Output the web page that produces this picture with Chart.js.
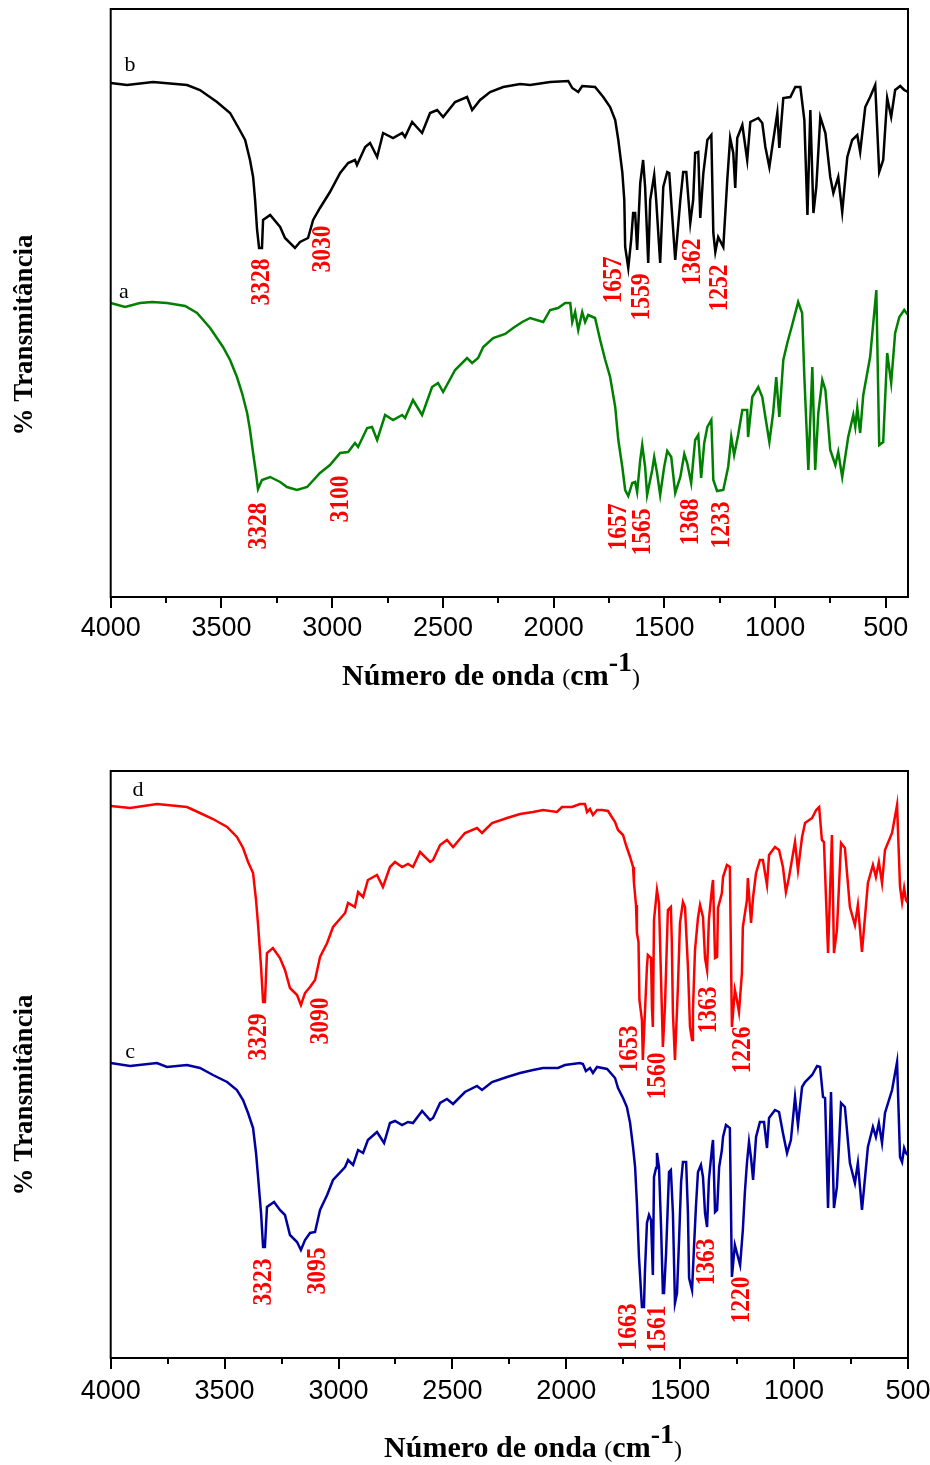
<!DOCTYPE html>
<html>
<head>
<meta charset="utf-8">
<script src="https://cdn.jsdelivr.net/npm/chart.js@4.4.0/dist/chart.umd.min.js"></script>
<style>
  body { margin: 0; background: #fff; }
  #wrap { position: relative; width: 930px; height: 1465px; }
  #top { position: absolute; left: 0; top: 0; }
  #bottom { position: absolute; left: 0; top: 730px; }
</style>
</head>
<body>
<div id="wrap">
  <canvas id="top" width="930" height="730"></canvas>
  <canvas id="bottom" width="930" height="735"></canvas>
</div>
<script>
// x ticks (cm-1)
const majorTicks = [4000, 3500, 3000, 2500, 2000, 1500, 1000, 500]

// spectrum b (black, top panel)
const waveB = [4000,3926,3809,3655,3597,3520,3461,3425,3393,3371,3357,3348,3339,3330,3317,3312,3280,3235,3213,3168,3145,3109,3086,3055,3010,2964,2928,2897,2888,2851,2829,2797,2770,2725,2684,2671,2639,2594,2558,2526,2499,2445,2391,2368,2332,2287,2228,2151,2106,2016,1934,1916,1889,1871,1813,1776,1745,1722,1708,1690,1681,1677,1663,1650,1641,1632,1623,1609,1596,1587,1573,1564,1546,1537,1519,1505,1487,1478,1451,1428,1415,1401,1383,1370,1361,1347,1338,1324,1306,1288,1279,1270,1257,1234,1216,1203,1189,1180,1171,1148,1126,1112,1076,1058,1044,1026,1013,990,981,963,931,909,886,868,854,841,827,814,796,773,751,737,715,697,674,652,629,616,593,571,548,530,512,494,476,458,435,417,400]
const transB = [514,512,515,512,507,495,484,470,457,437,420,397,367,349,349,377,382,370,359,349,355,359,377,389,405,424,434,437,432,450,454,440,464,459,464,460,475,464,484,487,480,495,500,487,497,505,510,513,512,515,516,509,505,511,510,500,490,477,457,425,397,350,329,357,384,384,347,414,437,410,334,397,422,397,334,410,425,424,337,397,425,425,374,397,444,445,379,424,457,462,364,345,360,350,417,459,444,409,459,472,437,475,479,474,450,430,450,484,449,499,500,510,510,477,382,487,384,410,480,464,420,404,420,385,440,457,462,445,490,500,512,425,437,499,480,507,511,507,505]

// spectrum a (green, top panel)
const waveA = [4000,3935,3868,3813,3746,3664,3610,3551,3493,3461,3430,3407,3384,3371,3357,3344,3335,3317,3280,3235,3204,3159,3113,3055,3010,2964,2928,2897,2883,2842,2820,2797,2761,2725,2684,2671,2635,2594,2549,2522,2499,2445,2391,2368,2341,2318,2273,2219,2183,2142,2106,2047,2016,1980,1948,1925,1916,1903,1889,1871,1858,1844,1813,1790,1767,1745,1722,1708,1690,1677,1663,1645,1632,1623,1609,1600,1587,1578,1555,1546,1533,1519,1501,1487,1469,1451,1428,1410,1397,1379,1361,1347,1334,1320,1306,1288,1279,1262,1234,1212,1198,1185,1167,1148,1126,1122,1103,1076,1058,1044,1026,1009,995,981,963,945,923,896,878,868,850,832,819,805,787,773,751,728,715,697,670,647,638,629,616,602,571,543,530,512,494,476,458,439,417,400]
const transA = [294,290,294,295,294,291,284,269,250,237,220,204,184,167,144,124,108,117,120,115,110,107,110,124,132,144,145,154,150,169,170,157,182,177,182,179,197,182,210,214,205,227,239,234,239,250,259,263,269,275,279,275,287,289,294,294,275,285,267,285,275,282,279,257,237,220,190,157,130,107,101,114,115,105,137,152,130,102,127,140,124,102,130,146,140,104,120,143,134,114,157,162,119,154,170,177,117,106,107,130,160,142,162,187,187,160,200,210,200,180,155,184,220,180,237,254,272,295,284,220,127,230,127,184,217,207,147,132,145,120,160,182,170,189,164,202,240,307,152,155,244,214,264,280,287,282]

// spectrum d (red, bottom panel)
const waveD = [4000,3915,3797,3665,3608,3551,3489,3446,3419,3397,3375,3362,3353,3340,3331,3323,3314,3288,3257,3235,3213,3182,3165,3147,3125,3103,3081,3050,3024,2971,2958,2928,2914,2892,2871,2831,2805,2774,2752,2721,2695,2673,2642,2598,2585,2554,2524,2497,2445,2392,2370,2326,2260,2203,2146,2102,2041,2019,1975,1940,1918,1909,1896,1883,1865,1843,1817,1786,1773,1751,1738,1720,1707,1703,1694,1690,1683,1679,1668,1664,1646,1642,1628,1624,1620,1615,1602,1593,1584,1576,1567,1554,1541,1537,1532,1523,1510,1501,1488,1479,1466,1457,1448,1444,1435,1422,1413,1400,1391,1382,1374,1360,1356,1347,1338,1334,1317,1312,1295,1282,1273,1260,1251,1242,1229,1225,1207,1203,1189,1180,1167,1150,1137,1119,1110,1084,1066,1049,1036,1023,996,983,965,952,921,903,890,878,869,851,834,825,812,794,777,755,733,720,702,676,654,641,628,614,601,570,548,535,526,517,509,500]
const transD = [552,550,554,551,545,539,531,521,510,496,485,458,433,391,356,356,405,410,400,388,370,363,353,365,371,378,401,415,431,445,455,451,466,461,478,483,471,491,496,491,494,491,506,496,498,513,518,511,525,530,525,535,540,544,546,548,546,551,551,554,554,546,549,543,548,548,547,536,528,523,513,501,491,475,453,425,416,358,338,298,391,403,400,351,331,438,468,455,378,311,351,448,451,418,345,298,371,435,456,451,391,331,318,348,408,440,453,441,400,388,438,471,478,400,401,450,465,481,493,491,331,368,358,346,385,431,458,480,435,461,485,498,498,473,503,511,508,491,466,480,516,488,521,535,540,548,551,518,516,405,523,405,428,515,510,451,433,453,406,475,493,481,496,475,508,525,553,471,456,470,458,455]

// spectrum c (blue, bottom panel)
const waveC = [4000,3915,3797,3753,3665,3608,3551,3489,3446,3419,3397,3375,3362,3353,3340,3331,3323,3314,3283,3257,3235,3213,3182,3165,3147,3125,3103,3081,3050,3024,2971,2958,2936,2914,2892,2871,2831,2800,2774,2752,2721,2695,2673,2633,2598,2585,2554,2524,2497,2445,2392,2370,2326,2260,2203,2146,2102,2036,2006,1940,1927,1914,1896,1883,1865,1821,1786,1773,1751,1734,1720,1707,1698,1690,1681,1668,1659,1655,1646,1637,1628,1620,1615,1606,1602,1593,1584,1576,1571,1562,1554,1549,1541,1532,1523,1514,1505,1496,1488,1474,1466,1461,1448,1439,1431,1422,1409,1400,1391,1382,1374,1360,1356,1347,1338,1329,1317,1312,1299,1282,1273,1260,1251,1237,1225,1216,1207,1198,1189,1180,1167,1150,1132,1119,1110,1084,1066,1049,1031,1014,996,983,965,952,921,899,886,873,864,851,838,825,812,794,777,755,733,720,702,676,654,641,628,614,601,570,548,535,526,517,509,500]
const transC = [295,292,295,291,293,290,283,276,268,258,245,230,205,181,145,111,111,151,156,148,143,123,116,108,118,125,126,148,163,178,191,198,193,208,205,218,226,215,235,237,233,236,235,247,238,240,255,259,254,266,272,268,276,281,285,288,290,290,293,295,294,287,290,285,291,289,280,270,260,251,235,211,191,155,101,51,51,85,135,143,138,83,181,190,205,191,131,65,65,105,155,186,188,145,55,65,118,176,196,196,145,80,68,113,151,186,193,181,145,131,178,211,218,146,148,191,208,221,233,230,81,113,105,93,128,166,195,216,200,178,221,236,236,210,240,248,246,225,205,218,261,233,271,276,283,292,291,261,260,150,266,150,171,255,251,195,175,195,148,211,231,221,235,215,245,268,296,201,196,210,205,203]

// peak annotations (x in cm-1, y in plot units)
const peaksTop = [
  {text: '3328', x: 3317, y: 315}, {text: '3030', x: 3041, y: 348},
  {text: '1657', x: 1727, y: 317}, {text: '1559', x: 1600, y: 300},
  {text: '1362', x: 1374, y: 335}, {text: '1252', x: 1252, y: 309},
  {text: '3328', x: 3330, y: 71}, {text: '3100', x: 2960, y: 98},
  {text: '1657', x: 1704, y: 70}, {text: '1565', x: 1596, y: 65},
  {text: '1368', x: 1383, y: 75}, {text: '1233', x: 1239, y: 72}
]
const peaksBottom = [
  {text: '3329', x: 3349, y: 321}, {text: '3090', x: 3077, y: 337},
  {text: '1653', x: 1720, y: 309}, {text: '1560', x: 1597, y: 282},
  {text: '1363', x: 1374, y: 348}, {text: '1226', x: 1224, y: 308},
  {text: '3323', x: 3327, y: 76}, {text: '3095', x: 3090, y: 87},
  {text: '1663', x: 1725, y: 31}, {text: '1561', x: 1597, y: 29},
  {text: '1363', x: 1382, y: 96}, {text: '1220', x: 1229, y: 58}
]
const lettersTop = [{text: 'b', x: 3913, y: 532}, {text: 'a', x: 3940, y: 305}]
const lettersBottom = [{text: 'd', x: 3880, y: 568}, {text: 'c', x: 3915, y: 306}]

const serif = '"Liberation Serif", "Times New Roman", serif'

function spectrum(label, wave, trans, color) {
  return {
    label: label,
    data: wave.map((w, i) => ({x: w, y: trans[i]})),
    borderColor: color,
    borderWidth: 2.5,
    pointRadius: 0,
    tension: 0,
    fill: false
  }
}

// frame round the plot and tick marks on the x axis
const frameAndTicks = {
  id: 'frameAndTicks',
  afterDraw(chart) {
    const {ctx, chartArea: a} = chart
    const x = chart.scales.x
    ctx.save()
    ctx.strokeStyle = '#000'
    ctx.lineWidth = 2
    ctx.strokeRect(a.left, a.top, a.right - a.left, a.bottom - a.top)
    for (let v = 4000; v >= x.min; v -= 250) {
      const px = Math.round(x.getPixelForValue(v))
      const len = v % 500 === 0 ? 11 : 6
      ctx.beginPath()
      ctx.moveTo(px, a.bottom)
      ctx.lineTo(px, a.bottom + len)
      ctx.stroke()
    }
    ctx.restore()
  }
}

function textPlugin(peaks, letters, titleX, titleBase, yTitleY) {
  return {
    id: 'texts',
    afterDraw(chart) {
      const ctx = chart.ctx
      const x = chart.scales.x
      const y = chart.scales.y
      ctx.save()
      // red peak labels, reading upward
      ctx.fillStyle = '#ff0000'
      ctx.font = 'bold 28px ' + serif
      ctx.textAlign = 'center'
      ctx.textBaseline = 'middle'
      for (const p of peaks) {
        ctx.save()
        ctx.translate(x.getPixelForValue(p.x), y.getPixelForValue(p.y))
        ctx.rotate(-Math.PI / 2)
        ctx.scale(0.84, 1)
        ctx.fillText(p.text, 0, 0)
        ctx.restore()
      }
      // curve letters
      ctx.fillStyle = '#000'
      ctx.font = '22px ' + serif
      for (const l of letters) {
        ctx.fillText(l.text, x.getPixelForValue(l.x), y.getPixelForValue(l.y))
      }
      // y title
      ctx.save()
      ctx.translate(25, yTitleY)
      ctx.rotate(-Math.PI / 2)
      ctx.font = 'bold 27px ' + serif
      ctx.fillText('% Transmitância', 0, 0)
      ctx.restore()
      // x title with superscript
      const parts = [
        {t: 'Número de onda ', f: 'bold 30px ' + serif, dy: 0},
        {t: '(', f: '24px ' + serif, dy: 0},
        {t: 'cm', f: 'bold 30px ' + serif, dy: 0},
        {t: '-1', f: 'bold 28px ' + serif, dy: -14},
        {t: ')', f: '24px ' + serif, dy: 0}
      ]
      let total = 0
      for (const p of parts) { ctx.font = p.f; p.w = ctx.measureText(p.t).width; total += p.w }
      let cx = titleX - total / 2
      ctx.textAlign = 'left'
      ctx.textBaseline = 'alphabetic'
      for (const p of parts) {
        ctx.font = p.f
        ctx.fillText(p.t, cx, titleBase + p.dy)
        cx += p.w
      }
      ctx.restore()
    }
  }
}

function makeChart(id, sets, xMin, yMax, padTop, axisHeight, tickPad, plugin) {
  return new Chart(document.getElementById(id), {
    type: 'line',
    data: { datasets: sets },
    options: {
      responsive: false,
      animation: false,
      events: [],
      layout: { padding: { left: 110.7, right: 22, top: padTop, bottom: 0 } },
      plugins: { legend: { display: false }, tooltip: { enabled: false } },
      scales: {
        x: {
          type: 'linear',
          reverse: true,
          min: xMin,
          max: 4000,
          afterBuildTicks: (s) => { s.ticks = majorTicks.filter(v => v >= xMin).map(v => ({value: v})) },
          afterFit: (s) => {
            s.height = axisHeight
            s.paddingLeft = 0
            s.paddingRight = 0
          },
          grid: { display: false, drawTicks: false },
          border: { display: false },
          ticks: {
            color: '#000',
            padding: tickPad,
            maxRotation: 0,
            autoSkip: false,
            callback: (v) => String(v),
            font: { family: '"Liberation Sans", Arial, sans-serif', size: 27 }
          }
        },
        y: { display: false, min: 0, max: yMax }
      }
    },
    plugins: [frameAndTicks, plugin]
  })
}

makeChart('top', [
  spectrum('b', waveB, transB, '#000000'),
  spectrum('a', waveA, transA, '#008000')
], 400, 588, 9, 133, 15, textPlugin(peaksTop, lettersTop, 491, 685, 335))

makeChart('bottom', [
  spectrum('d', waveD, transD, '#ff0000'),
  spectrum('c', waveC, transC, '#0000a0')
], 500, 587, 41, 107, 17, textPlugin(peaksBottom, lettersBottom, 533, 727, 365))
</script>
</body>
</html>
